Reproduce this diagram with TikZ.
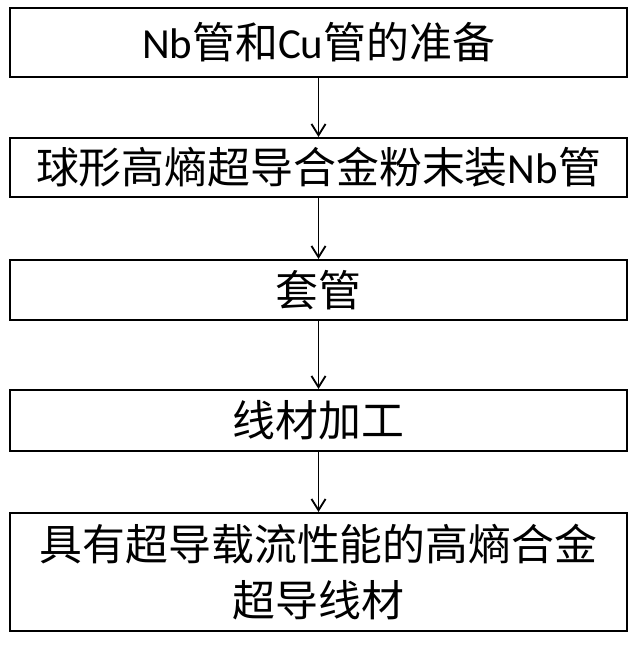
\documentclass[tikz,border=0pt]{standalone}
\usepackage{fontspec}
\setmainfont{Carlito}
\newfontfamily\cjk{Noto Sans CJK SC}
\usetikzlibrary{arrows.meta}
\begin{document}
\begin{tikzpicture}[x=0.025cm,y=-0.025cm,
  stepbox/.style={draw,line width=1.5pt,minimum width=617*0.025cm,inner sep=0pt,align=center,font=\fontsize{30.5}{40}\selectfont},
  arr/.style={-{Straight Barb[length=8pt,width=10pt]},line width=1.3pt}]
\useasboundingbox (0,0) rectangle (640,645);
\node[stepbox,minimum height=69*0.025cm] (a) at (318.5,42.5) {Nb\cjk 管和\rmfamily Cu\cjk 管的准备};
\node[stepbox,minimum height=59*0.025cm] (b) at (318.5,167.5) {\cjk 球形高熵超导合金粉末装\rmfamily Nb\cjk 管};
\node[stepbox,minimum height=60*0.025cm] (c) at (318.5,290) {\cjk 套管};
\node[stepbox,minimum height=61*0.025cm] (d) at (318.5,420.5) {\cjk 线材加工};
\node[stepbox,minimum height=118*0.025cm] (e) at (318.5,572) {\cjk 具有超导载流性能的高熵合金\\\cjk 超导线材};
\draw[arr] (a) -- (b);
\draw[arr] (b) -- (c);
\draw[arr] (c) -- (d);
\draw[arr] (d) -- (e);
\end{tikzpicture}
\end{document}
